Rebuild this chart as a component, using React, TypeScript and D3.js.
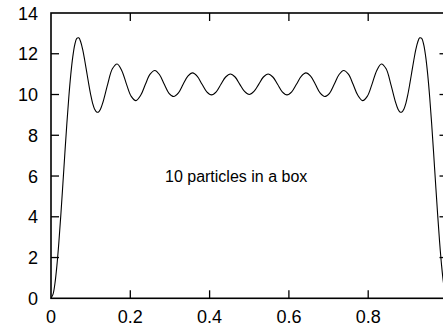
import React from "react";
import * as d3 from "d3";

const xs: number[] = [
  0.0, 0.005, 0.01, 0.015, 0.02, 0.025, 0.03, 0.035, 0.04, 0.045, 0.05, 0.055, 0.06, 0.065, 0.07, 0.075,
  0.08, 0.085, 0.09, 0.095, 0.1, 0.105, 0.11, 0.115, 0.12, 0.125,
  0.131, 0.1429, 0.1548, 0.1667, 0.1786, 0.1905, 0.2024, 0.2143, 0.2262, 0.2381, 0.25, 0.2619, 0.2738,
  0.2857, 0.2976, 0.3095, 0.3214, 0.3333, 0.3452, 0.3571, 0.369, 0.381, 0.3929, 0.4048, 0.4167, 0.4286,
  0.4405, 0.4524, 0.4643, 0.4762, 0.4881, 0.5,
  0.5119, 0.5238, 0.5357, 0.5476, 0.5595, 0.5714, 0.5833, 0.5952, 0.6071, 0.619, 0.631, 0.6429, 0.6548,
  0.6667, 0.6786, 0.6905, 0.7024, 0.7143, 0.7262, 0.7381, 0.75, 0.7619, 0.7738, 0.7857, 0.7976, 0.8095,
  0.8214, 0.8333, 0.8452, 0.8571, 0.869,
  0.875, 0.88, 0.885, 0.89, 0.895, 0.9, 0.905, 0.91, 0.915, 0.92, 0.925, 0.93, 0.935, 0.94, 0.945, 0.95,
  0.955, 0.96, 0.965, 0.97, 0.975, 0.98, 0.985, 0.99, 0.995, 1.0,
];

const density: number[] = [
  0.0, 0.19, 0.74, 1.63, 2.79, 4.15, 5.62, 7.13, 8.58, 9.89, 11.0, 11.86, 12.45, 12.75, 12.78, 12.58,
  12.2, 11.68, 11.11, 10.53, 10.0, 9.57, 9.28, 9.14, 9.14, 9.29,
  9.62, 10.5, 11.26, 11.5, 11.17, 10.5, 9.91, 9.7, 9.96, 10.5, 11.0, 11.18, 10.97,
  10.5, 10.06, 9.9, 10.08, 10.5, 10.9, 11.06, 10.89, 10.5, 10.13, 9.98, 10.13, 10.5,
  10.86, 11.01, 10.86, 10.5, 10.15, 10.0,
  10.15, 10.5, 10.86, 11.01, 10.86, 10.5, 10.13, 9.98, 10.13, 10.5, 10.89, 11.06, 10.9,
  10.5, 10.08, 9.9, 10.06, 10.5, 10.97, 11.18, 11.0, 10.5, 9.96, 9.7, 9.91, 10.5,
  11.17, 11.5, 11.26, 10.5, 9.62,
  9.29, 9.14, 9.14, 9.28, 9.57, 10.0, 10.53, 11.11, 11.68, 12.2, 12.58, 12.78, 12.75, 12.45, 11.86, 11.0,
  9.89, 8.58, 7.13, 5.62, 4.15, 2.79, 1.63, 0.74, 0.19, 0.0,
];

const xTicks: number[] = [0, 0.2, 0.4, 0.6, 0.8, 1.0];
const xTickLabels: string[] = ["0", "0.2", "0.4", "0.6", "0.8", ""];
const yTicks: number[] = [0, 2, 4, 6, 8, 10, 12, 14];
const yTickLabels: string[] = ["0", "2", "4", "6", "8", "10", "12", "14"];
const labelText = "10 particles in a box";

const W = 443;
const H = 327;
const left = 51;
const right = 447.5;
const top = 13;
const bottom = 298.3;
const tickLen = 8;
const font = "'Liberation Sans', Arial, Helvetica, sans-serif";

export default function App() {
  const x = d3.scaleLinear().domain([0, 1]).range([left, right]);
  const y = d3.scaleLinear().domain([0, 14]).range([bottom, top]);
  const pts: [number, number][] = xs.map((v, i) => [v, density[i]]);
  const line = d3
    .line<[number, number]>()
    .x((d) => x(d[0]))
    .y((d) => y(d[1]))
    .curve(d3.curveCatmullRom.alpha(0.5));

  return (
    <svg
      width={W}
      height={H}
      style={{ position: "absolute", left: 0, top: 0, background: "#fff" }}
      fontFamily={font}
    >
      <rect x={0} y={0} width={W} height={H} fill="#fff" />
      <path d={line(pts) || ""} fill="none" stroke="#000" strokeWidth={1.1} />
      <rect
        x={x(0)}
        y={y(14)}
        width={x(1) - x(0)}
        height={y(0) - y(14)}
        fill="none"
        stroke="#000"
        strokeWidth={1.6}
      />
      {xTicks.map((t, i) => (
        <g key={"x" + i}>
          {i > 0 && i < xTicks.length - 1 && (
            <>
              <line x1={x(t)} x2={x(t)} y1={y(0)} y2={y(0) - tickLen} stroke="#000" strokeWidth={1.3} />
              <line x1={x(t)} x2={x(t)} y1={y(14)} y2={y(14) + tickLen} stroke="#000" strokeWidth={1.3} />
            </>
          )}
          <text x={x(t)} y={y(0) + 25} textAnchor="middle" fontSize={18} fill="#000">
            {xTickLabels[i]}
          </text>
        </g>
      ))}
      {yTicks.map((t, i) => (
        <g key={"y" + i}>
          {i > 0 && i < yTicks.length - 1 && (
            <>
              <line x1={x(0)} x2={x(0) + tickLen} y1={y(t)} y2={y(t)} stroke="#000" strokeWidth={1.3} />
              <line x1={x(1)} x2={x(1) - tickLen} y1={y(t)} y2={y(t)} stroke="#000" strokeWidth={1.3} />
            </>
          )}
          <text x={x(0) - 13} y={y(t) + 6.5} textAnchor="end" fontSize={18} fill="#000">
            {yTickLabels[i]}
          </text>
        </g>
      ))}
      <text x={x(0.2875)} y={y(5.7)} fontSize={16} fill="#000">
        {labelText}
      </text>
    </svg>
  );
}
